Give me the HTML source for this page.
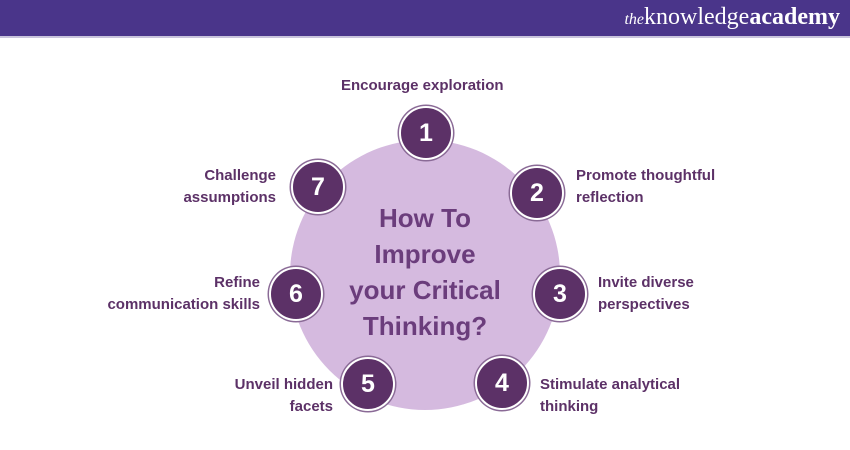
<!DOCTYPE html>
<html><head><style>
body{margin:0;width:850px;height:450px;background:#fff;position:relative;overflow:hidden;font-family:"Liberation Sans",sans-serif}
.hdr{position:absolute;left:0;top:0;width:850px;height:36px;background:#4a358a;border-bottom:2px solid #c9c4dc}
.logo{position:absolute;right:10px;top:4px;color:#fff;font-family:"Liberation Serif",serif;font-size:24px}
.big{position:absolute;left:290px;top:140px;width:270px;height:270px;border-radius:50%;background:#d5badf}
.t{position:absolute;left:290px;width:270px;top:200px;text-align:center;color:#6b3d7c;font-weight:bold;font-size:26px;line-height:36px}
.n{position:absolute;width:50px;height:50px;margin:-27px 0 0 -27px;border-radius:50%;background:#5c3167;border:2px solid #fff;box-shadow:0 0 0 1.5px #8a6a96;color:#fff;font-weight:bold;font-size:25px;text-align:center;line-height:50px}
.l{position:absolute;color:#5c3167;font-weight:bold;font-size:15px;line-height:22px}
</style></head><body>
<div class="hdr"><div class="logo"><i style="font-size:16px">the</i>knowledge<b>academy</b></div></div>
<div class="big"></div>
<div class="t">How To<br>Improve<br>your Critical<br>Thinking?</div>
<div class="n" style="left:426px;top:133px">1</div>
<div class="n" style="left:537px;top:193px">2</div>
<div class="n" style="left:560px;top:294px">3</div>
<div class="n" style="left:502px;top:383px">4</div>
<div class="n" style="left:368px;top:384px">5</div>
<div class="n" style="left:296px;top:294px">6</div>
<div class="n" style="left:318px;top:187px">7</div>
<div class="l" style="left:341px;top:75px">Encourage exploration</div>
<div class="l" style="left:576px;top:165px">Promote thoughtful<br>reflection</div>
<div class="l" style="left:598px;top:272px">Invite diverse<br>perspectives</div>
<div class="l" style="left:540px;top:374px">Stimulate analytical<br>thinking</div>
<div class="l" style="left:230px;top:374px;text-align:right;width:103px">Unveil hidden<br>facets</div>
<div class="l" style="left:80px;top:272px;text-align:right;width:180px">Refine<br>communication skills</div>
<div class="l" style="left:120px;top:165px;text-align:right;width:156px">Challenge<br>assumptions</div>
</body></html>
